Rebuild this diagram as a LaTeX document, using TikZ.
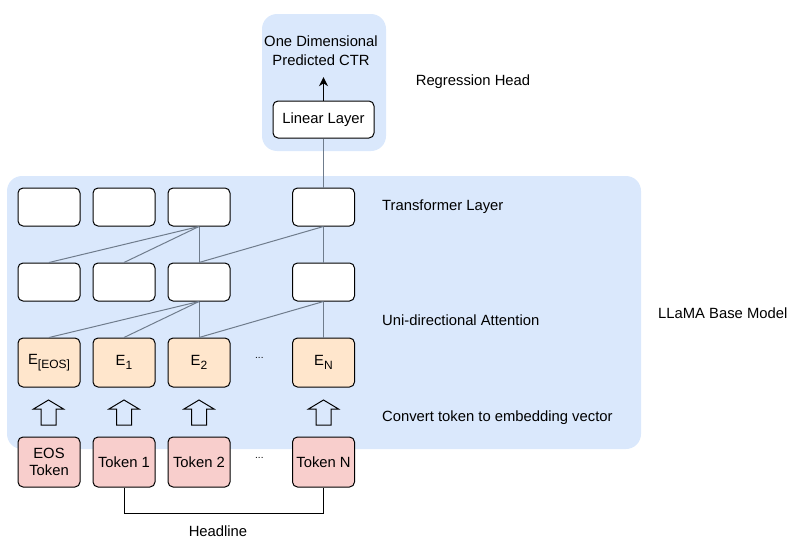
\documentclass[tikz,border=0pt]{standalone}
\usepackage{fontspec}
\setmainfont{Liberation Sans}
\usetikzlibrary{arrows.meta}
\definecolor{panelblue}{HTML}{DAE8FC}
\definecolor{embfill}{HTML}{FFE6CC}
\definecolor{tokfill}{HTML}{F8CECC}
\definecolor{wiregray}{HTML}{6F7C8C}
\newcommand{\embsub}[1]{\raisebox{-3.5pt}{\fontsize{12}{12}\selectfont #1}}
\tikzstyle{cell}=[draw=black, line width=1pt, rounded corners=5pt, fill=white, minimum width=62pt, minimum height=38pt, inner sep=0pt, font=\fontsize{14.8}{17}\selectfont]
\tikzstyle{emb}=[cell, fill=embfill, minimum height=49pt]
\tikzstyle{tok}=[cell, fill=tokfill, minimum height=50pt, align=center]
\tikzstyle{wire}=[draw=wiregray, line width=1pt]
\tikzstyle{lbl}=[anchor=west, inner sep=0pt, font=\fontsize{14.8}{17}\selectfont]

\begin{document}
\begin{tikzpicture}[x=1pt, y=-1pt]
      \useasboundingbox (0,0) rectangle (787,538);

      % panels
      \fill[panelblue, rounded corners=15pt] (7,176) rectangle (641,449);
      \fill[panelblue, rounded corners=15pt] (262,14) rectangle (386,151);

      % transformer and attention rows
      \foreach \n/\x in {0/49, 1/124, 2/199, n/323.5}{
        \node[cell] (t\n) at (\x,207) {};
        \node[cell] (a\n) at (\x,282) {};
      }

      % embeddings
      \node[emb] (e0) at (49,362.5) {E\embsub{[EOS]}};
      \node[emb] (e1) at (124,362.5) {E\embsub{1}};
      \node[emb] (e2) at (199,362.5) {E\embsub{2}};
      \node[emb] (en) at (323.5,362.5) {E\embsub{N}};
      \node[lbl] (d1) at (255,358) {\fontsize{10}{12}\selectfont ...};

      % tokens
      \node[tok] (k0) at (49,462) {EOS\\Token};
      \node[tok] (k1) at (124,462) {Token 1};
      \node[tok] (k2) at (199,462) {Token 2};
      \node[tok] (kn) at (323.5,462) {Token N};
      \node[lbl] (d2) at (255,458) {\fontsize{10}{12}\selectfont ...};

      % hollow arrows
      \foreach \x in {48.5, 124, 199, 323.5}
        \draw[line width=1pt] (\x-7.5,425) -- (\x-7.5,409) -- (\x-15,409) -- (\x,400)
          -- (\x+15,409) -- (\x+7.5,409) -- (\x+7.5,425) -- cycle;

      % attention wires
      \foreach \s in {a0, a1, a2}
        \draw[wire] (\s.north) -- (t2.south);
      \foreach \s in {a2, an}
        \draw[wire] (\s.north) -- (tn.south);
      \foreach \s in {e0, e1, e2}
        \draw[wire] (\s.north) -- (a2.south);
      \foreach \s in {e2, en}
        \draw[wire] (\s.north) -- (an.south);

      % regression head
      \node[cell, minimum width=101pt, minimum height=37pt] (lin) at (323.5,119.5) {Linear Layer};
      \node[align=center, inner xsep=2pt, inner ysep=0pt, minimum height=52pt, font=\fontsize{14.8}{19}\selectfont] (out) at (321,51) {One Dimensional\\Predicted CTR};
      \draw[wire] (tn.north) -- (lin.south);
      \draw[-{Stealth[length=9pt, width=9pt]}, line width=1.2pt] (lin.north) -- (lin.north |- out.south);

      % headline bracket
      \draw[line width=1pt] (k1.south) -- ++(0,26) -| (kn.south);
      \node[font=\fontsize{14.8}{17}\selectfont] (hl) at (218,531) {Headline};

      % side labels
      \node[lbl] (lt) at (382,207) {Transformer Layer};
      \node[lbl] (la) at (382,320) {Uni-directional Attention};
      \node[lbl] (lc) at (382,418) {Convert token to embedding vector};
      \node[lbl] (lb) at (658,313) {LLaMA Base Model};
      \node[font=\fontsize{14.8}{17}\selectfont] (lr) at (473,82) {Regression Head};
    \end{tikzpicture}
\end{document}
